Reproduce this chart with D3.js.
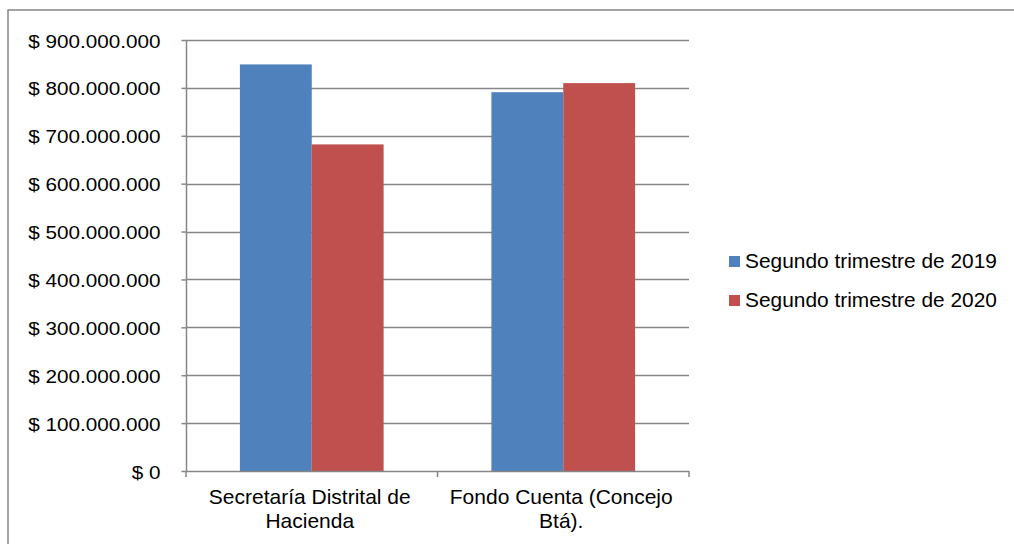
<!DOCTYPE html>
<html><head><meta charset="utf-8">
<script src="https://cdn.jsdelivr.net/npm/d3@7"></script>
<style>body{margin:0;background:#fff}text{font-family:"Liberation Sans",Arial,sans-serif;fill:#000}</style>
</head><body>
<svg id="c" width="1014" height="544"></svg>
<script>
const categories = [["Secretaría Distrital de","Hacienda"],["Fondo Cuenta (Concejo","Btá)."]];
const seriesNames = ["Segundo trimestre de 2019","Segundo trimestre de 2020"];
const s2019 = [849000000, 791000000];
const s2020 = [682000000, 810000000];
const yTicks = [0,100000000,200000000,300000000,400000000,500000000,600000000,700000000,800000000,900000000];
const colors = ["#4F81BD","#C0504D"];

const svg = d3.select("#c");
const L=186, R=689, T=40, B=471;
svg.append("rect").attr("x",8).attr("y",10).attr("width",1020).attr("height",540)
  .attr("fill","#fff").attr("stroke","#868686").attr("stroke-width",1.5);

const y = d3.scaleLinear().domain([0,900000000]).range([B,T]);
const x0 = d3.scaleBand().domain(d3.range(categories.length)).range([L,R]).paddingInner(0.4286).paddingOuter(0.2143);
const x1 = d3.scaleBand().domain([0,1]).range([0,x0.bandwidth()]);
const fmt = v => "$ " + (v===0 ? "0" : d3.format(",")(v).replace(/,/g,"."));
const SX = 1.09;

// gridlines
svg.append("g").selectAll("line").data(yTicks.filter(d=>d>0)).join("line")
  .attr("x1",L).attr("x2",R).attr("y1",d=>Math.round(y(d))+0.5).attr("y2",d=>Math.round(y(d))+0.5)
  .attr("stroke","#868686").attr("stroke-width",1.5);

// bars
const data = categories.map((c,i)=>[s2019[i], s2020[i]]);
const g = svg.append("g");
data.forEach((vals,i)=>{
  g.selectAll(null).data(vals).join("rect")
    .attr("x",(d,j)=>x0(i)+x1(j)).attr("width",x1.bandwidth())
    .attr("y",d=>y(d)).attr("height",d=>B-y(d))
    .attr("fill",(d,j)=>colors[j]);
});

// y axis
const yAxis = d3.axisLeft(y).tickValues(yTicks).tickFormat(fmt).tickSize(5).tickPadding(0);
const ya = svg.append("g").attr("transform",`translate(${L+0.5},0)`).call(yAxis);
ya.select(".domain").remove();
ya.selectAll("line").attr("stroke","#868686").attr("stroke-width",1.5);
ya.append("line").attr("y1",T).attr("y2",B).attr("stroke","#868686").attr("stroke-width",1.5);
ya.selectAll(".tick text").attr("x",null).attr("dy",null).attr("font-size",19)
  .attr("text-anchor","end").attr("transform",`translate(-26,7) scale(${SX},1)`)
  .style("font-family","'Liberation Sans',Arial,sans-serif").attr("fill","#000");

// x axis line + ticks
svg.append("line").attr("x1",L).attr("x2",R).attr("y1",B+0.5).attr("y2",B+0.5).attr("stroke","#868686").attr("stroke-width",1.5);
svg.append("g").selectAll("line").data([L, L+x0.step(), R]).join("line")
  .attr("x1",d=>d).attr("x2",d=>d).attr("y1",B).attr("y2",B+6).attr("stroke","#868686").attr("stroke-width",1.5);

// x labels
categories.forEach((lines,i)=>{
  const cx = x0(i)+x0.bandwidth()/2;
  lines.forEach((t,k)=>{
    svg.append("text").attr("text-anchor","middle").attr("font-size",20)
      .attr("transform",`translate(${cx-2},${504+k*24}) scale(1.05,1)`).text(t);
  });
});

// legend
seriesNames.forEach((n,i)=>{
  const yy = 256 + i*39;
  svg.append("rect").attr("x",729).attr("y",yy).attr("width",11).attr("height",11).attr("fill",colors[i]);
  svg.append("text").attr("font-size",20).attr("transform",`translate(745,${yy+11.5}) scale(1.045,1)`).text(n);
});
</script>
</body></html>
